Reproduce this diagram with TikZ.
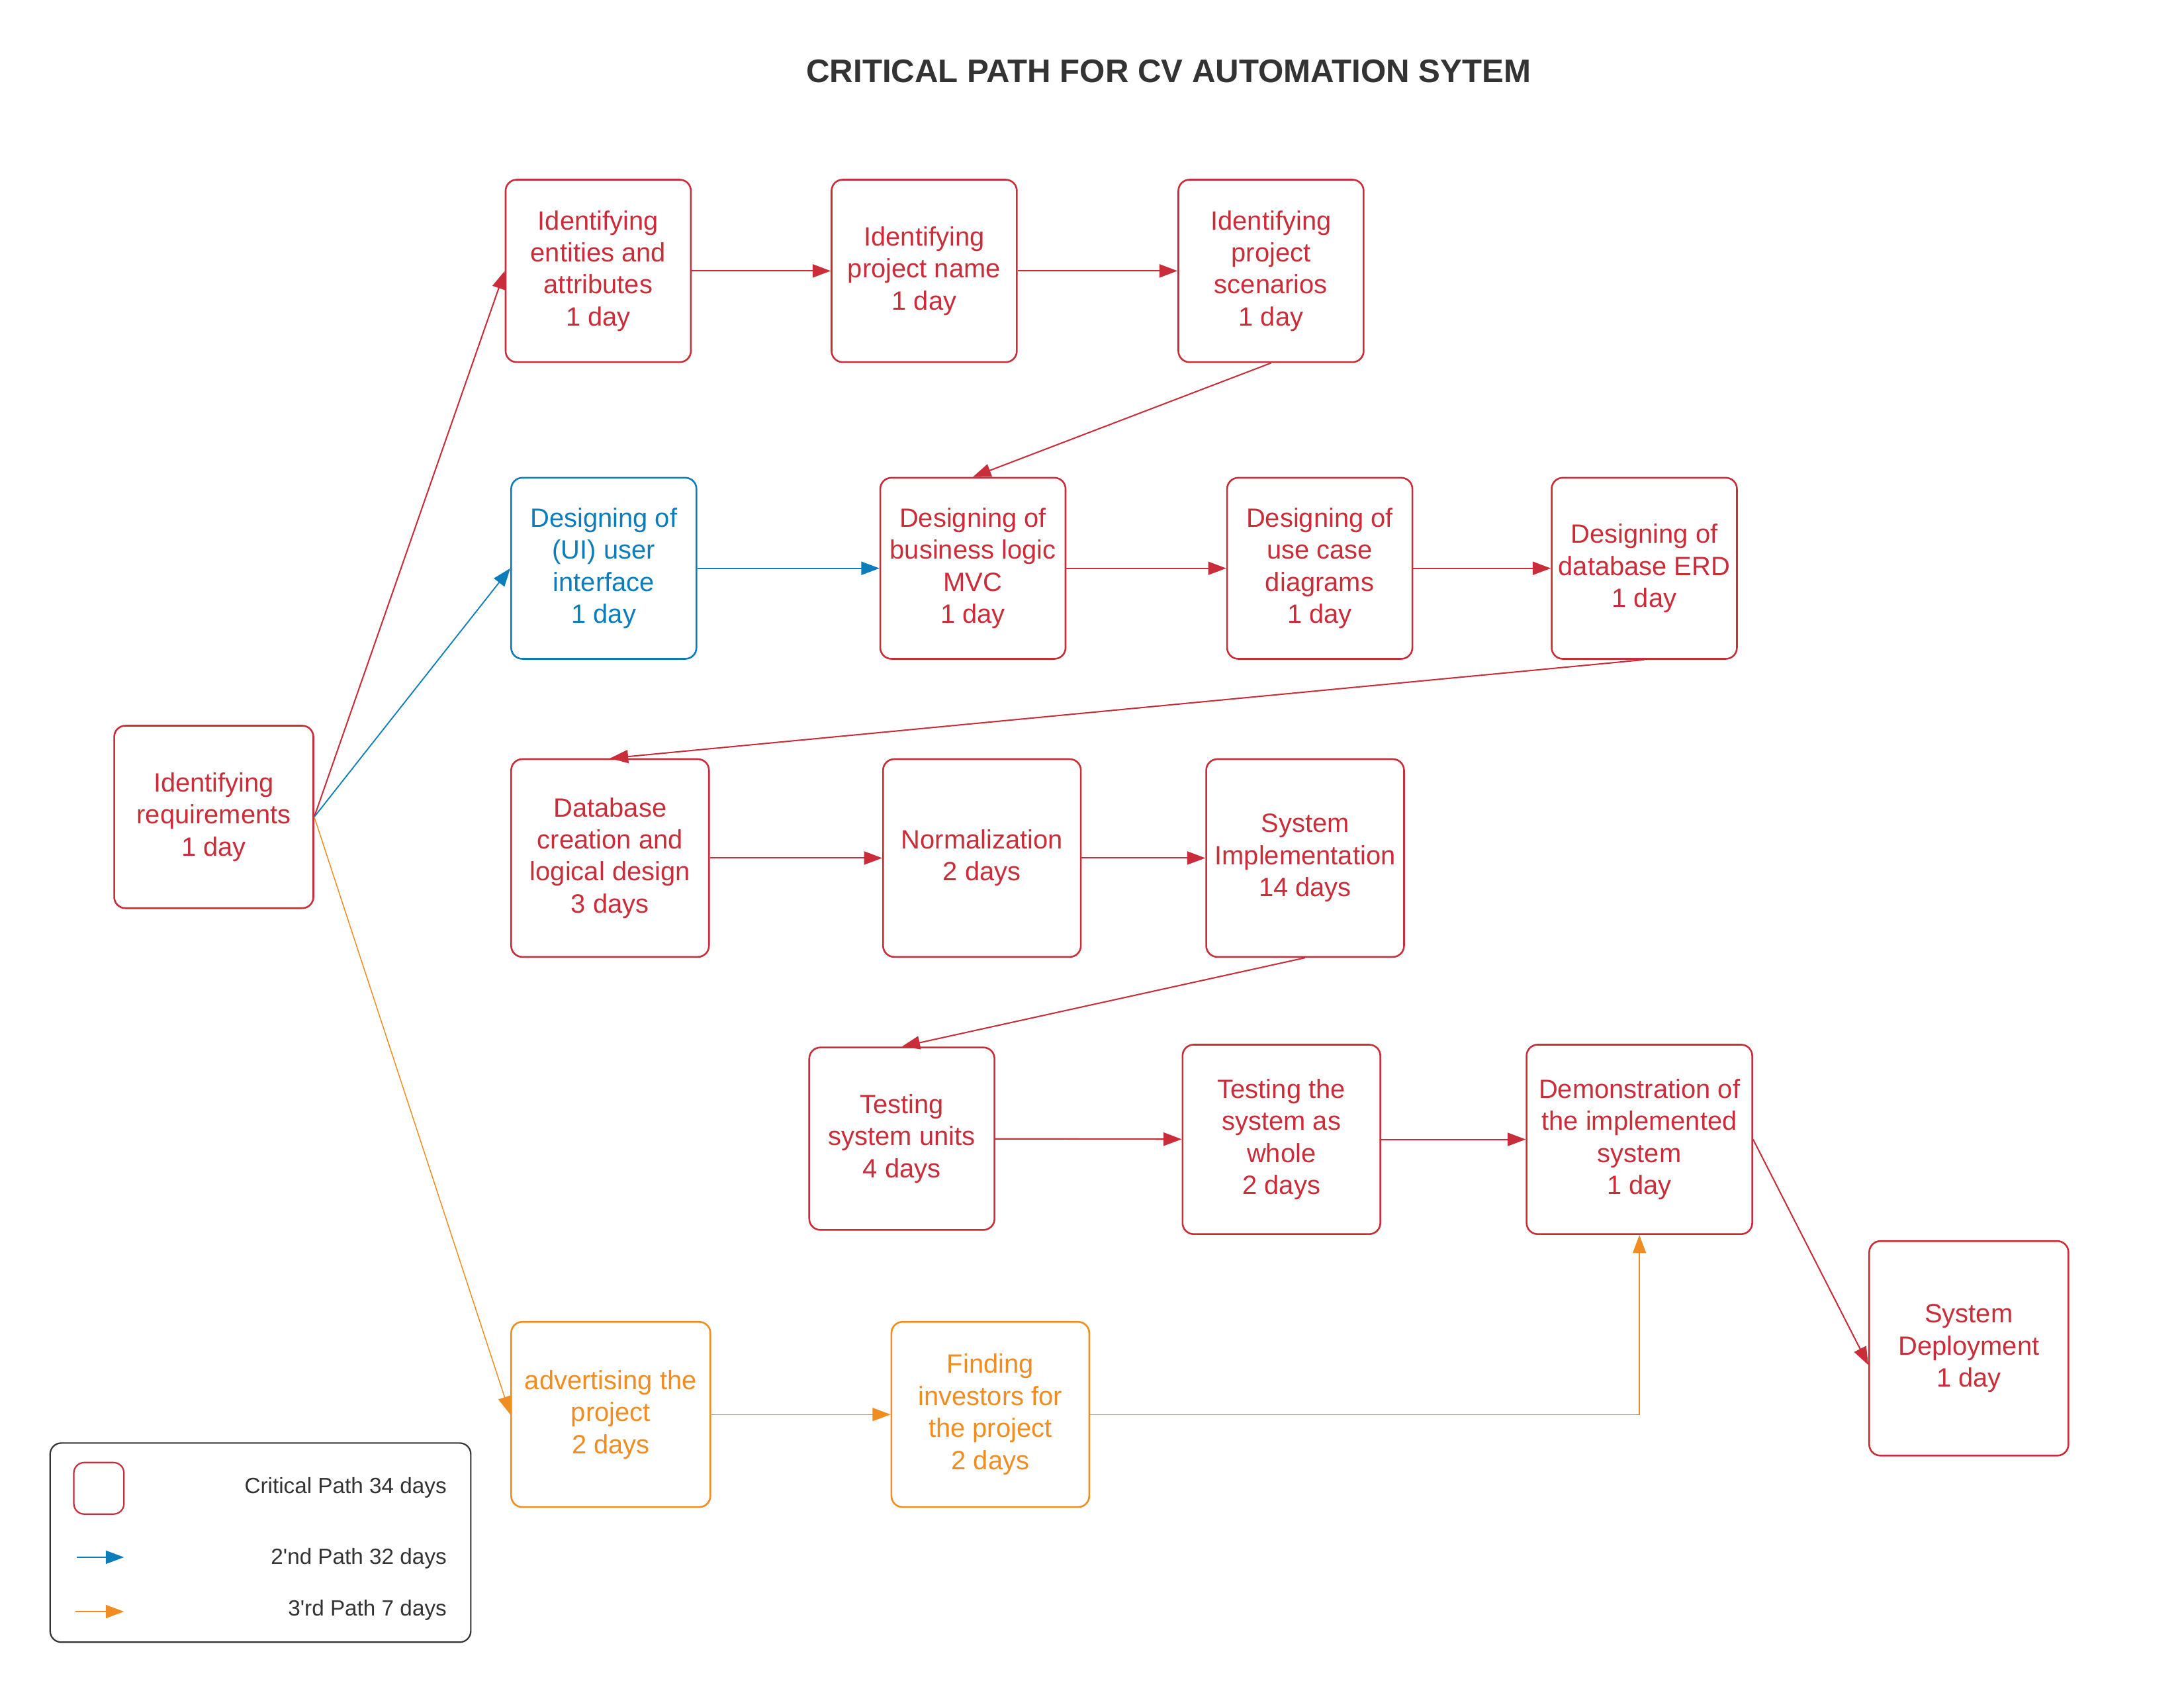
\documentclass[tikz,border=0pt]{standalone}
\usepackage{fontspec}
\setmainfont{Liberation Sans}
\usetikzlibrary{arrows.meta}

\definecolor{cpred}{HTML}{C92D39}
\definecolor{cpblue}{HTML}{0C7CBA}
\definecolor{cporange}{HTML}{EF8D22}
\definecolor{cpgray}{HTML}{333333}

\begin{document}
\begin{tikzpicture}[x=0.2mm,y=-0.2mm,
  task/.style={draw, rounded corners=1.6mm, align=center, inner sep=0pt, line width=0.7pt,
    font=\fontsize{10.8}{13.1}\selectfont},
  crit/.style={task, draw=cpred, text=cpred},
  second/.style={task, draw=cpblue, text=cpblue},
  third/.style={task, draw=cporange, text=cporange},
  tip/.style={-{Triangle[length=2.6mm,width=1.9mm]}},
  redline/.style={tip, draw=cpred, line width=0.55pt},
  blueline/.style={tip, draw=cpblue, line width=0.5pt},
  orangeline/.style={tip, draw=cporange, line width=0.4pt},
  keytext/.style={anchor=east, inner sep=0pt, text=cpgray, font=\fontsize{9}{11}\selectfont}]
% page size of the picture
\useasboundingbox (0,0) rectangle (1568,1211);

% Title
\node[font=\bfseries\fontsize{13.3}{16}\selectfont, text=cpgray] (title) at (839,51) {CRITICAL PATH FOR CV AUTOMATION SYTEM};

% Draw task boxes
\node[crit, minimum width=28.6mm, minimum height=26.2mm] (req) at (153.5,586.5) {Identifying\\requirements\\1 day};
\node[crit, minimum width=26.6mm, minimum height=26.2mm] (ent) at (429.5,194.5) {Identifying\\entities and\\attributes\\1 day};
\node[crit, minimum width=26.6mm, minimum height=26.2mm] (pname) at (663.5,194.5) {Identifying\\project name\\1 day};
\node[crit, minimum width=26.6mm, minimum height=26.2mm] (scen) at (912.5,194.5) {Identifying\\project\\scenarios\\1 day};
\node[second, minimum width=26.6mm, minimum height=26mm] (ui) at (433.5,408) {Designing of\\(UI) user\\interface\\1 day};
\node[crit, minimum width=26.6mm, minimum height=26mm] (bl) at (698.5,408) {Designing of\\business logic\\MVC\\1 day};
\node[crit, minimum width=26.6mm, minimum height=26mm] (uc) at (947.5,408) {Designing of\\use case\\diagrams\\1 day};
\node[crit, minimum width=26.6mm, minimum height=26mm] (erd) at (1180.5,408) {Designing of\\database ERD\\1 day};
\node[crit, minimum width=28.4mm, minimum height=28.4mm] (db) at (438,616) {Database\\creation and\\logical design\\3 days};
\node[crit, minimum width=28.4mm, minimum height=28.4mm] (norm) at (705,616) {Normalization\\2 days};
\node[crit, minimum width=28.4mm, minimum height=28.4mm] (impl) at (937,616) {System\\Implementation\\14 days};
\node[crit, minimum width=26.6mm, minimum height=26.2mm] (tunits) at (647.5,817.5) {Testing\\system units\\4 days};
\node[crit, minimum width=28.4mm, minimum height=27.2mm] (twhole) at (920,818) {Testing the\\system as\\whole\\2 days};
\node[crit, minimum width=32.4mm, minimum height=27.2mm] (demo) at (1177,818) {Demonstration of\\the implemented\\system\\1 day};
\node[crit, minimum width=28.6mm, minimum height=30.8mm] (deploy) at (1413.5,968) {System\\Deployment\\1 day};
\node[third, minimum width=28.6mm, minimum height=26.6mm] (adv) at (438.5,1015.5) {advertising the\\project\\2 days};
\node[third, minimum width=28.4mm, minimum height=26.6mm] (inv) at (711,1015.5) {Finding\\investors for\\the project\\2 days};

% Draw connectors
\draw[redline] (req.east) -- (ent.west);
\draw[blueline] (req.east) -- (ui.west);
\draw[orangeline] (req.east) -- (adv.west);
\draw[redline] (ent) -- (pname);
\draw[redline] (pname) -- (scen);
\draw[redline] (scen.south) -- (bl.north);
\draw[blueline] (ui) -- (bl);
\draw[redline] (bl) -- (uc);
\draw[redline] (uc) -- (erd);
\draw[redline] (erd.south) -- (db.north);
\draw[redline] (db) -- (norm);
\draw[redline] (norm) -- (impl);
\draw[redline] (impl.south) -- (tunits.north);
\draw[redline] (tunits) -- (twhole);
\draw[redline] (twhole) -- (demo);
\draw[redline] (demo.east) -- ([yshift=-2.4mm]deploy.west);
\draw[orangeline] (adv) -- (inv);
\draw[orangeline] (inv.east) -| (demo.south);

% Legend
\node[draw=cpgray, rounded corners=1.6mm, line width=0.6pt, minimum width=60.4mm, minimum height=28.6mm] (legend) at (187,1107.5) {};
\node[draw=cpred, rounded corners=1.5mm, line width=0.6pt, minimum width=7.2mm, minimum height=7.4mm] (keybox) at (71,1068.5) {};
\coordinate (blueA) at (55,1118);
\coordinate (blueB) at (89,1118);
\coordinate (orangeA) at (54,1157);
\coordinate (orangeB) at (89,1157);
\draw[blueline] (blueA) -- (blueB);
\draw[orangeline] (orangeA) -- (orangeB);
\node[keytext] (keycrit) at (321,1068) {Critical Path 34 days};
\node[keytext] (keysecond) at (321,1119) {2\textquotesingle nd Path 32 days};
\node[keytext] (keythird) at (321,1156) {3\textquotesingle rd Path 7 days};

\end{tikzpicture}
\end{document}
